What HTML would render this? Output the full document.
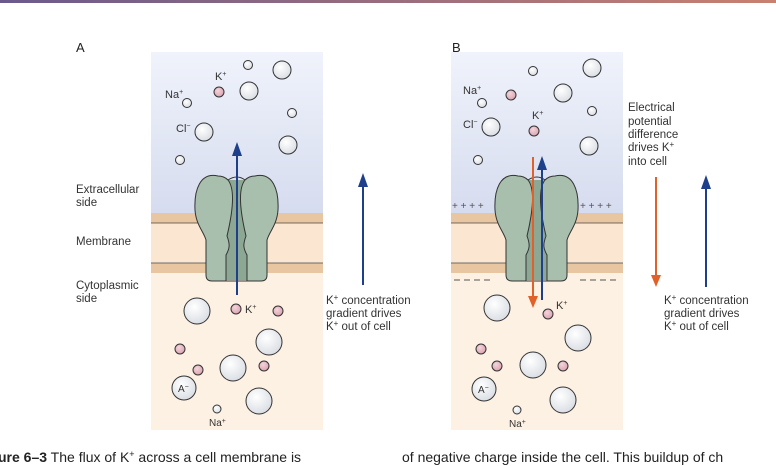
<!DOCTYPE html>
<html><head><style>
body{margin:0;width:776px;height:466px;overflow:hidden;background:#fff;font-family:"Liberation Sans",sans-serif;}
svg{position:absolute;left:0;top:0}
</style></head><body>
<svg width="776" height="466" viewBox="0 0 776 466" font-family="Liberation Sans, sans-serif">
<defs>
<linearGradient id="tb" x1="0" x2="1"><stop offset="0" stop-color="#6a5a8c"/><stop offset="1" stop-color="#c98070"/></linearGradient>
<linearGradient id="ext" x1="0" y1="0" x2="0" y2="1"><stop offset="0" stop-color="#f0f3fb"/><stop offset="1" stop-color="#d6dcef"/></linearGradient>
<radialGradient id="ball" cx="0.4" cy="0.35" r="0.7"><stop offset="0" stop-color="#ffffff"/><stop offset="1" stop-color="#d8dce2"/></radialGradient>
<radialGradient id="pk" cx="0.4" cy="0.35" r="0.7"><stop offset="0" stop-color="#f4d4dc"/><stop offset="1" stop-color="#d9a1ad"/></radialGradient>
<g id="chan">
<rect x="208" y="180" width="57" height="100" fill="#8ca894"/>
<path d="M218,176 C200,172 194,190 195,210 C196,225 204,232 206,240 L206,275 Q206,281 212,281 L226,281 L226,255 C230,248 230,244 227,236 C232,215 236,190 228,180 C225,177 222,176 218,176 Z" fill="#a9bfae" stroke="#333" stroke-width="1"/>
<path d="M255,176 C273,172 279,190 278,210 C277,225 269,232 267,240 L267,275 Q267,281 261,281 L247,281 L247,255 C243,248 243,244 246,236 C241,215 237,190 245,180 C248,177 251,176 255,176 Z" fill="#a9bfae" stroke="#333" stroke-width="1"/>
<path d="M226,281 L247,281 M228,180 Q237,174 245,180" stroke="#333" fill="none"/>
</g>
</defs>
<rect x="0" y="0" width="776" height="3" fill="url(#tb)"/>
<!-- panel A -->
<rect x="151" y="52" width="172" height="161" fill="url(#ext)"/>
<rect x="151" y="213" width="172" height="50" fill="#fbe6d2"/>
<rect x="151" y="213" width="172" height="10" fill="#e9c6a2"/>
<rect x="151" y="263" width="172" height="10" fill="#e9c6a2"/>
<line x1="151" y1="223" x2="323" y2="223" stroke="#444" stroke-width="0.8"/>
<line x1="151" y1="263" x2="323" y2="263" stroke="#444" stroke-width="0.8"/>
<rect x="151" y="273" width="172" height="157" fill="#fdf1e4"/>
<use href="#chan"/>
<!-- panel B -->
<rect x="451" y="52" width="172" height="161" fill="url(#ext)"/>
<rect x="451" y="213" width="172" height="50" fill="#fbe6d2"/>
<rect x="451" y="213" width="172" height="10" fill="#e9c6a2"/>
<rect x="451" y="263" width="172" height="10" fill="#e9c6a2"/>
<line x1="451" y1="223" x2="623" y2="223" stroke="#444" stroke-width="0.8"/>
<line x1="451" y1="263" x2="623" y2="263" stroke="#444" stroke-width="0.8"/>
<rect x="451" y="273" width="172" height="157" fill="#fdf1e4"/>
<use href="#chan" transform="translate(300,0)"/>
<g fill="#555" font-size="10"><text x="452" y="209">+ + + +</text><text x="580" y="209">+ + + +</text></g>
<g stroke="#555" stroke-width="1"><path d="M454,280h6M464,280h6M474,280h6M484,280h6M580,280h6M590,280h6M600,280h6M610,280h6"/></g>
<!-- circles -->
<g stroke="#333" stroke-width="1">
<g fill="url(#ball)">
<circle cx="248" cy="65" r="4.5"/><circle cx="282" cy="70" r="9"/><circle cx="249" cy="91" r="9"/><circle cx="187" cy="103" r="4.5"/><circle cx="292" cy="113" r="4.5"/><circle cx="204" cy="132" r="9"/><circle cx="288" cy="145" r="9"/><circle cx="180" cy="160" r="4.5"/>
<circle cx="197" cy="311" r="13"/><circle cx="269" cy="342" r="13"/><circle cx="233" cy="368" r="13"/><circle cx="184" cy="388" r="12"/><circle cx="259" cy="401" r="13"/><circle cx="217" cy="409" r="4"/>
<circle cx="533" cy="71" r="4.5"/><circle cx="592" cy="68" r="9"/><circle cx="563" cy="93" r="9"/><circle cx="482" cy="103" r="4.5"/><circle cx="592" cy="111" r="4.5"/><circle cx="491" cy="127" r="9"/><circle cx="589" cy="146" r="9"/><circle cx="478" cy="160" r="4.5"/>
<circle cx="497" cy="308" r="13"/><circle cx="578" cy="338" r="13"/><circle cx="533" cy="365" r="13"/><circle cx="484" cy="389" r="12"/><circle cx="563" cy="400" r="13"/><circle cx="517" cy="410" r="4"/>
</g>
<g fill="url(#pk)">
<circle cx="219" cy="92" r="5"/><circle cx="236" cy="309" r="5"/><circle cx="278" cy="311" r="5"/><circle cx="180" cy="349" r="5"/><circle cx="198" cy="370" r="5"/><circle cx="264" cy="366" r="5"/>
<circle cx="511" cy="95" r="5"/><circle cx="534" cy="131" r="5"/><circle cx="548" cy="314" r="5"/><circle cx="481" cy="349" r="5"/><circle cx="497" cy="366" r="5"/><circle cx="563" cy="366" r="5"/>
</g>
</g>
<!-- arrows -->
<g stroke="#1e3f8a" stroke-width="2">
<line x1="237" y1="295" x2="237" y2="152"/>
<line x1="363" y1="285" x2="363" y2="183"/>
<line x1="542" y1="300" x2="542" y2="166"/>
<line x1="706" y1="287" x2="706" y2="185"/>
</g>
<g fill="#1e3f8a">
<path d="M232,156 L237,142 L242,156 Z"/>
<path d="M358,187 L363,173 L368,187 Z"/>
<path d="M537,170 L542,156 L547,170 Z"/>
<path d="M701,189 L706,175 L711,189 Z"/>
</g>
<g stroke="#e0622a" stroke-width="2" fill="#e0622a">
<line x1="533" y1="157" x2="533" y2="298"/><path d="M528,296 L533,308 L538,296 Z" stroke="none"/>
<line x1="656" y1="177" x2="656" y2="277"/><path d="M651,275 L656,287 L661,275 Z" stroke="none"/>
</g>
<!-- labels -->
<g fill="#333" font-size="11">
<text x="76" y="52" font-size="13" fill="#222">A</text>
<text x="452" y="52" font-size="13" fill="#222">B</text>
<text x="165" y="98">Na<tspan dy="-4" font-size="7">+</tspan></text>
<text x="215" y="80">K<tspan dy="-4" font-size="7">+</tspan></text>
<text x="176" y="132">Cl<tspan dy="-4" font-size="7">−</tspan></text>
<text x="245" y="313">K<tspan dy="-4" font-size="7">+</tspan></text>
<text x="178" y="392" font-size="10">A<tspan dy="-3" font-size="7">−</tspan></text>
<text x="209" y="426" font-size="10">Na<tspan dy="-3" font-size="7">+</tspan></text>
<text x="463" y="94">Na<tspan dy="-4" font-size="7">+</tspan></text>
<text x="532" y="119">K<tspan dy="-4" font-size="7">+</tspan></text>
<text x="463" y="128">Cl<tspan dy="-4" font-size="7">−</tspan></text>
<text x="556" y="309">K<tspan dy="-4" font-size="7">+</tspan></text>
<text x="478" y="393" font-size="10">A<tspan dy="-3" font-size="7">−</tspan></text>
<text x="509" y="427" font-size="10">Na<tspan dy="-3" font-size="7">+</tspan></text>
</g>
<g fill="#333" font-size="11.5">
<text x="76" y="193">Extracellular</text><text x="76" y="206">side</text>
<text x="76" y="245">Membrane</text>
<text x="76" y="289">Cytoplasmic</text><text x="76" y="302">side</text>
<text x="326" y="304">K<tspan dy="-4" font-size="8">+</tspan><tspan dy="4"> concentration</tspan></text>
<text x="326" y="317">gradient drives</text>
<text x="326" y="330">K<tspan dy="-4" font-size="8">+</tspan><tspan dy="4"> out of cell</tspan></text>
<text x="628" y="111">Electrical</text><text x="628" y="125">potential</text><text x="628" y="138">difference</text>
<text x="628" y="151">drives K<tspan dy="-4" font-size="8">+</tspan></text><text x="628" y="165">into cell</text>
<text x="664" y="304">K<tspan dy="-4" font-size="8">+</tspan><tspan dy="4"> concentration</tspan></text>
<text x="664" y="317">gradient drives</text>
<text x="664" y="330">K<tspan dy="-4" font-size="8">+</tspan><tspan dy="4"> out of cell</tspan></text>
</g>
<g fill="#222" font-size="14">
<text x="-2" y="462"><tspan font-weight="bold">ure 6–3</tspan> The flux of K<tspan dy="-5" font-size="9">+</tspan><tspan dy="5"> across a cell membrane is</tspan></text>
<text x="402" y="462">of negative charge inside the cell. This buildup of ch</text>
</g>
</svg>
</body></html>
